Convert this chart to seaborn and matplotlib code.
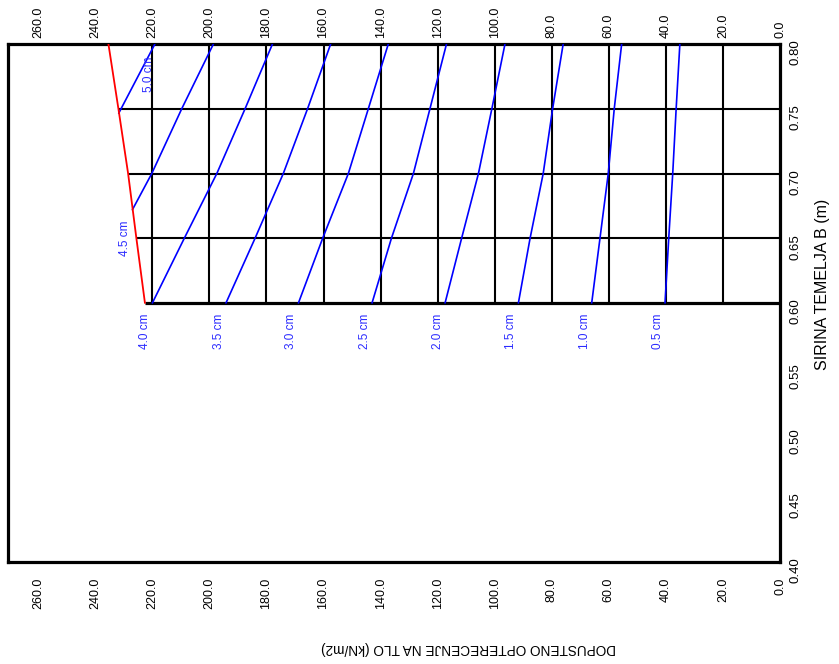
import numpy as np
import pandas as pd
import matplotlib
matplotlib.use("Agg")
import matplotlib.pyplot as plt
import matplotlib.transforms as mtransforms
import seaborn as sns

# ---- data ----
widths = [0.60, 0.65, 0.70, 0.75, 0.80]          # footing width B (m)
q_05 = [40.3, 39.0, 37.6, 36.4, 35.1]
q_10 = [66.0, 63.1, 60.2, 58.1, 55.5]
q_15 = [91.7, 87.6, 83.0, 79.7, 76.0]
q_20 = [117.4, 111.6, 105.7, 101.0, 96.4]
q_25 = [143.0, 136.2, 128.5, 122.7, 116.9]
q_30 = [168.8, 160.3, 151.3, 144.3, 137.3]
q_35 = [194.2, 184.0, 174.1, 165.6, 157.5]
q_40 = [220.0, 208.8, 197.4, 187.5, 177.9]
widths_45 = [0.672, 0.70, 0.75, 0.80]
q_45 = [227.0, 220.2, 209.7, 198.6]
widths_50 = [0.7465, 0.80]
q_50 = [231.8, 219.1]
red_q = [222.6, 225.6, 228.5, 231.9, 235.4]      # limit line

settle_labels = ["0.5 cm", "1.0 cm", "1.5 cm", "2.0 cm", "2.5 cm", "3.0 cm", "3.5 cm", "4.0 cm"]
x_ticks = [0, 20, 40, 60, 80, 100, 120, 140, 160, 180, 200, 220, 240, 260]
y_ticks = [0.40, 0.45, 0.50, 0.55, 0.60, 0.65, 0.70, 0.75, 0.80]
grid_q = [20, 40, 60, 80, 100, 120, 140, 160, 180, 200, 220]
grid_b = [0.65, 0.70, 0.75]

main_curves = [q_05, q_10, q_15, q_20, q_25, q_30, q_35, q_40]
rows = []
for lab, qs in zip(settle_labels, main_curves):
    for b, q in zip(widths, qs):
        rows.append({"s": lab, "B": b, "q": q})
for b, q in zip(widths_45, q_45):
    rows.append({"s": "4.5 cm", "B": b, "q": q})
for b, q in zip(widths_50, q_50):
    rows.append({"s": "5.0 cm", "B": b, "q": q})
df = pd.DataFrame(rows)
red_df = pd.DataFrame({"B": widths, "q": red_q})

sns.set_theme(style="white")
plt.rcParams["font.family"] = ["Liberation Sans", "DejaVu Sans"]

fig = plt.figure(figsize=(8.39, 6.64), dpi=100)
ax = fig.add_axes([8 / 839, 1 - 562 / 664, (780 - 8) / 839, (562 - 44) / 664])

# grid (only inside the chart region)
ax.vlines(grid_q, widths[0], widths[-1], color="black", lw=1.5, zorder=1)
ax.hlines(grid_b, 0, np.interp(grid_b, widths, red_q), color="black", lw=1.5, zorder=1)
ax.hlines([widths[0]], 0, red_q[0], color="black", lw=2.3, zorder=1)

sns.lineplot(data=df, x="q", y="B", units="s", estimator=None, sort=False,
             color="blue", lw=1.2, ax=ax, legend=False, zorder=3)
sns.lineplot(data=red_df, x="q", y="B", estimator=None, sort=False,
             color="red", lw=1.3, ax=ax, legend=False, zorder=4)

# curve labels
lab_color = "#2b2bff"
for lab, qs in zip(settle_labels, main_curves):
    ax.text(qs[0] + 2.5, 0.578, lab, rotation=90, color=lab_color,
            fontsize=8.5, ha="center", va="center")
ax.text(q_50[-1] + 2.2, 0.777, "5.0 cm", rotation=90, color=lab_color,
        fontsize=8.5, ha="center", va="center")
ax.text(229.6, 0.65, "4.5 cm", rotation=90, color=lab_color,
        fontsize=8.5, ha="center", va="center")

ax.set_xlim(270.6, 0)
ax.set_ylim(0.40, 0.80)
ax.set_xticks(x_ticks)
ax.set_xticklabels([f"{v:.1f}" for v in x_ticks])
ax.set_yticks(y_ticks)
ax.set_yticklabels([f"{v:.2f}" for v in y_ticks])
ax.set_xlabel("")
ax.set_ylabel("")

ax.tick_params(axis="x", top=True, labeltop=True, bottom=True, labelbottom=True,
               length=0, labelrotation=90, labelsize=9, pad=11, labelcolor="black")
ax.tick_params(axis="y", left=False, labelleft=False, right=True, labelright=True,
               length=0, labelrotation=90, labelsize=9.5, pad=7, labelcolor="black")

for side in ["top", "bottom", "left", "right"]:
    ax.spines[side].set_visible(True)
    ax.spines[side].set_color("black")
    ax.spines[side].set_linewidth(2.3)

fig.text(823 / 839, 1 - 284 / 664, "SIRINA TEMELJA B (m)", rotation=90,
         ha="center", va="center", fontsize=11.5, color="black")
fig.text(468 / 839, 1 - 648 / 664, "DOPUSTENO OPTERECENJE NA TLO (kN/m2)",
         rotation=180, ha="center", va="center", fontsize=9.8, color="black")

# top tick labels sit closer to the frame than the bottom ones
top_pad = 4.5
off = mtransforms.ScaledTranslation(0, -(11 - top_pad) / 72, fig.dpi_scale_trans)
for t in ax.xaxis.get_major_ticks():
    t.label2.set_transform(t.label2.get_transform() + off)

fig.savefig("out.png", dpi=100, facecolor="white")
